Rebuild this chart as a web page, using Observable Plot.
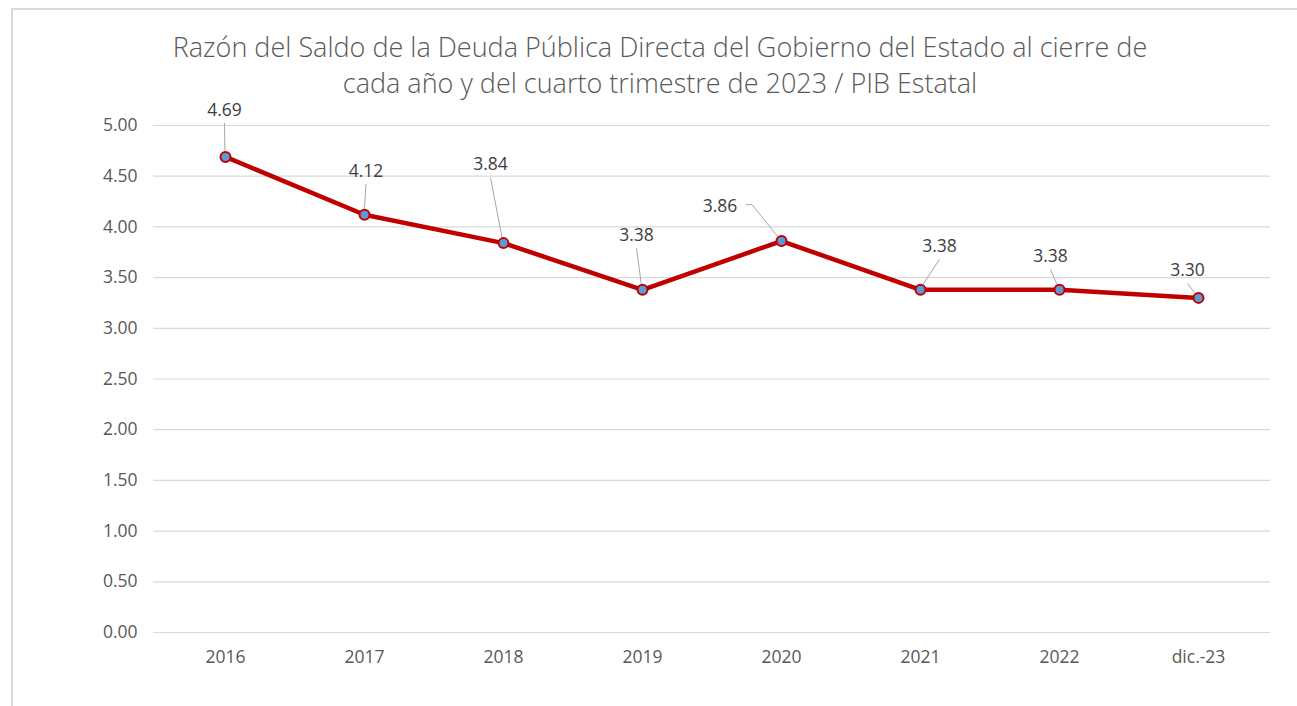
<!DOCTYPE html>
<html>
<head>
<meta charset="utf-8">
<script src="https://cdn.jsdelivr.net/npm/d3@7"></script>
<script src="https://cdn.jsdelivr.net/npm/@observablehq/plot@0.6"></script>
<style>
html, body { margin: 0; padding: 0; background: #fff; width: 1297px; height: 706px; overflow: hidden; font-family: "Open Sans", sans-serif; }
#frame { position: absolute; left: 11px; top: 8px; width: 1400px; height: 800px; border-left: 2px solid #d9d9d9; border-top: 2px solid #d9d9d9; }
#chart { position: absolute; left: 0; top: 0; }
#title { position: absolute; left: 110px; width: 1100px; top: 29px; text-align: center; font-size: 27px; line-height: 36px; color: #595959; font-weight: 300; }
</style>
</head>
<body>
<div id="frame"></div>
<div id="chart"></div>
<div id="title">Razón del Saldo de la Deuda Pública Directa del Gobierno del Estado al cierre de<br>cada año y del cuarto trimestre de 2023 / PIB Estatal</div>
<script>
// ---- data ----
const categories = ["2016", "2017", "2018", "2019", "2020", "2021", "2022", "dic.-23"];
const values = [4.69, 4.12, 3.84, 3.38, 3.86, 3.38, 3.38, 3.30];
const yTicks = [0, 0.5, 1, 1.5, 2, 2.5, 3, 3.5, 4, 4.5, 5];
// label placement offsets (pixels, relative to the point), like manual Excel label positions
const labelDx = [-0.5, 2, -12.5, -5.5, -61, 19.5, -8.5, -10.5];
const labelDy = [-47, -43.5, -78.5, -54.5, -34.5, -43.5, -33.5, -27.5];
const leaderSide = [false, false, false, false, true, false, false, false];

const data = categories.map((c, i) => ({cat: c, value: values[i], i}));

function leadersAndLabels(a, b) {
  const scales = (b && b.x) ? b : a;
  const g = d3.create("svg:g");
  data.forEach((d, i) => {
    const px = scales.x(d.cat), py = scales.y(d.value);
    const lx = px + labelDx[i], ly = py + labelDy[i];
    let pts;
    if (leaderSide[i]) {
      const sx = lx + 26, sy = ly - 1.5;
      const ex = sx + 6;
      const ang = Math.atan2(py - sy, px - ex);
      pts = [[sx, sy], [ex, sy], [px - 5.5 * Math.cos(ang), py - 5.5 * Math.sin(ang)]];
    } else {
      const sx = lx, sy = ly + 13.5;
      const ang = Math.atan2(py - sy, px - sx);
      pts = [[sx, sy], [px - 5.5 * Math.cos(ang), py - 5.5 * Math.sin(ang)]];
    }
    g.append("path")
      .attr("d", d3.line()(pts))
      .attr("fill", "none")
      .attr("stroke", "#a6a6a6")
      .attr("stroke-width", 1);
    g.append("text")
      .attr("x", lx).attr("y", ly)
      .attr("dy", "0.36em")
      .attr("text-anchor", "middle")
      .attr("fill", "#404040")
      .attr("font-family", "Open Sans")
      .attr("font-size", "17.5px")
      .text(d.value.toFixed(2));
  });
  return g.node();
}

const chart = Plot.plot({
  width: 1297,
  height: 706,
  marginTop: 125,
  marginBottom: 74,
  marginLeft: 153,
  marginRight: 27,
  style: {fontFamily: "Open Sans", fontSize: "17.5px", color: "#595959", background: "transparent", overflow: "visible"},
  x: {type: "point", domain: categories, padding: 0.5, label: null},
  y: {domain: [0, 5], label: null},
  marks: [
    Plot.ruleY(yTicks, {stroke: "#d9d9d9", strokeWidth: 1.2}),
    Plot.axisY({ticks: yTicks, tickFormat: d => d.toFixed(2), tickSize: 0, tickPadding: 16, label: null, fill: "#595959"}),
    Plot.axisX({tickSize: 0, tickPadding: 18, label: null, fill: "#595959"}),
    Plot.line(data, {x: "cat", y: "value", stroke: "#C00000", strokeWidth: 4.5, strokeLinejoin: "round"}),
    leadersAndLabels,
    Plot.dot(data, {x: "cat", y: "value", r: 5, fill: "#5B9BD5", stroke: "#C00000", strokeWidth: 2})
  ]
});
document.getElementById("chart").appendChild(chart);
</script>
</body>
</html>
